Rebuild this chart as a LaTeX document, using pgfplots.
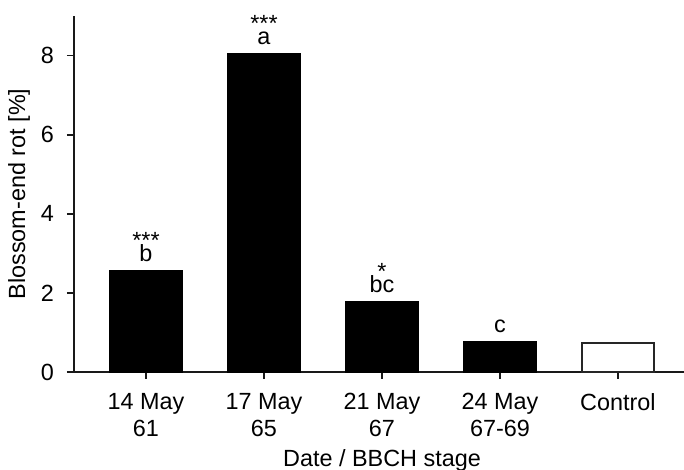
\documentclass[border=0pt]{standalone}
\usepackage{pgfplots}
\pgfplotsset{compat=1.18}
\usepackage{fontspec}
\setmainfont{Liberation Sans}
\newcommand{\cf}{\fontsize{11.7}{13.5}\selectfont}
\begin{document}
\begin{tikzpicture}
\begin{axis}[
  name=ax,
  scale only axis,
  width=305pt, height=178pt,
  xmin=-0.61, xmax=4.56,
  ymin=0, ymax=9,
  axis x line=bottom, axis y line=left,
  axis line style={-, line width=0.85pt, black!90},
  tick style={line width=0.85pt, black!90},
  major tick length=3.5pt,
  tick align=outside,
  xtick={0,1,2,3,4},
  xticklabels={{14 May\\61},{17 May\\65},{21 May\\67},{24 May\\67-69},{Control}},
  ytick={0,2,4,6,8},
  /pgf/number format/assume math mode=true,
  tick label style={font=\cf},
  xticklabel style={align=center, anchor=north, inner sep=0pt, yshift=-7pt},
  yticklabel style={xshift=-3pt},
  label style={font=\cf},
  xlabel={Date / BBCH stage},
  xlabel style={at={(axis description cs:0.505,0)}, anchor=base, yshift=-47.5pt},
  ylabel={Blossom-end rot [\%]},
  ylabel style={at={(axis description cs:-0.0902,0.5)}, anchor=center},
  ybar, bar width=36pt, bar shift=0pt,
  clip=false,
]
\addplot[fill=black, draw=black, line width=0.6pt] coordinates {(0,2.56) (1,8.05) (2,1.77) (3,0.78)};
\addplot[fill=white, draw=black!85, line width=0.85pt] coordinates {(4,0.73)};
\node[font=\cf, anchor=base, inner sep=0pt] at ([yshift=4.5pt]axis cs:0,2.56) {b};
\node[font=\cf, anchor=base, inner sep=0pt] at ([yshift=4.5pt]axis cs:1,8.05) {a};
\node[font=\cf, anchor=base, inner sep=0pt] at ([yshift=4.5pt]axis cs:2,1.77) {bc};
\node[font=\cf, anchor=base, inner sep=0pt] at ([yshift=4.5pt]axis cs:3,0.78) {c};
\node[font=\cf, anchor=base, inner sep=0pt] at ([yshift=11pt]axis cs:0,2.56) {***};
\node[font=\cf, anchor=base, inner sep=0pt] at ([yshift=11pt]axis cs:1,8.05) {***};
\node[font=\cf, anchor=base, inner sep=0pt] at ([yshift=11.3pt]axis cs:2,1.77) {*};
\end{axis}
\pgfresetboundingbox
\path[use as bounding box] ([xshift=-37pt,yshift=-49pt]ax.south west) rectangle ([yshift=8pt]ax.north east);
\end{tikzpicture}
\end{document}
